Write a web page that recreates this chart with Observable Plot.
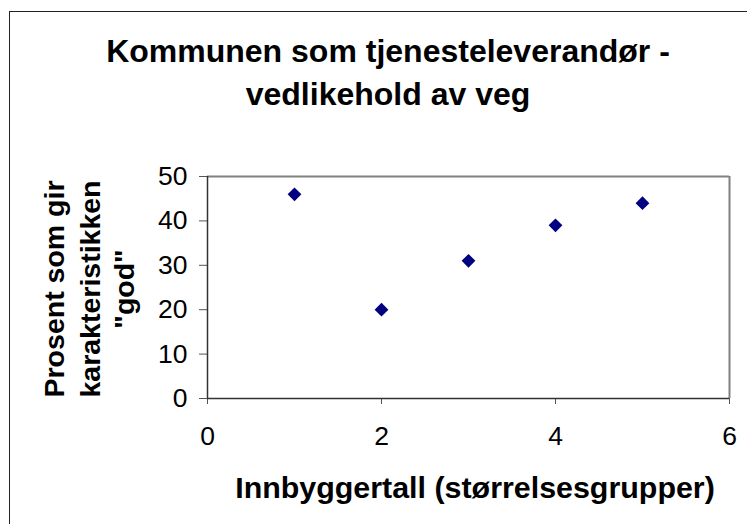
<!DOCTYPE html>
<html>
<head>
<meta charset="utf-8">
<script src="https://cdn.jsdelivr.net/npm/d3@7"></script>
<script src="https://cdn.jsdelivr.net/npm/@observablehq/plot@0.6"></script>
<style>
  html, body { margin: 0; padding: 0; background: #fff; }
  #wrap { position: relative; width: 747px; height: 524px; overflow: hidden; }
  #border { position: absolute; left: 9px; top: 11px; width: 760px; height: 540px; border: 1.3px solid #222; box-sizing: border-box; pointer-events: none; }
  #wrap svg { position: absolute; left: 0; top: 0; }
</style>
</head>
<body>
<div id="wrap"><div id="border"></div></div>
<script>
// Data
const groups = [1, 2, 3, 4, 5];
const percentGood = [46, 20, 31, 39, 44];
const xTicks = [0, 2, 4, 6];
const yTicks = [0, 10, 20, 30, 40, 50];
const titleLines = ["Kommunen som tjenesteleverandør -", "vedlikehold av veg"];
const xLabel = "Innbyggertall (størrelsesgrupper)";
const yLabelLines = ["Prosent som gir", "karakteristikken", "\"god\""];

const data = groups.map((g, i) => ({group: g, pct: percentGood[i]}));
const FONT = "'Liberation Sans', Arial, Helvetica, sans-serif";

const chart = Plot.plot({
  width: 747,
  height: 524,
  marginLeft: 207,
  marginRight: 18,
  marginTop: 176,
  marginBottom: 126,
  style: {fontFamily: FONT, background: "transparent", overflow: "visible"},
  x: {domain: [0, 6], ticks: xTicks},
  y: {domain: [0, 50], ticks: yTicks},
  marks: [
    Plot.ruleY([50], {stroke: "#808080", strokeWidth: 2}),
    Plot.ruleX([6], {stroke: "#808080", strokeWidth: 2}),
    Plot.axisY(yTicks, {tickSize: 8, tickPadding: 12, fontSize: 26.5, stroke: "#555", fill: "#000", label: null}),
    Plot.axisX(xTicks, {tickSize: 6, tickPadding: 22, fontSize: 26.5, stroke: "#555", fill: "#000", label: null}),
    Plot.ruleX([0], {stroke: "#333", strokeWidth: 1.5}),
    Plot.ruleY([0], {stroke: "#333", strokeWidth: 1.5}),
    Plot.dot(data, {x: "group", y: "pct", symbol: "diamond2", r: 6.2, fill: "#000080", stroke: "none"})
  ]
});

document.getElementById("wrap").insertBefore(chart, document.getElementById("border"));

const svg = d3.select(chart);
const title = svg.append("text")
  .attr("text-anchor", "middle")
  .attr("font-family", FONT)
  .attr("font-weight", "bold")
  .attr("font-size", 32)
  .attr("fill", "#000");
titleLines.forEach((t, i) => {
  title.append("tspan").attr("x", 388).attr("y", 62 + i * 43).text(t);
});

svg.append("text")
  .attr("x", 475).attr("y", 498)
  .attr("text-anchor", "middle")
  .attr("font-family", FONT)
  .attr("font-weight", "bold")
  .attr("font-size", 30.4)
  .attr("fill", "#000")
  .text(xLabel);

const ylab = svg.append("text")
  .attr("transform", "translate(0,289) rotate(-90)")
  .attr("text-anchor", "middle")
  .attr("font-family", FONT)
  .attr("font-weight", "bold")
  .attr("font-size", 28.5)
  .attr("fill", "#000");
const ylx = [64, 99.5, 134];
yLabelLines.forEach((t, i) => {
  ylab.append("tspan").attr("x", 0).attr("y", ylx[i]).text(t);
});
</script>
</body>
</html>
